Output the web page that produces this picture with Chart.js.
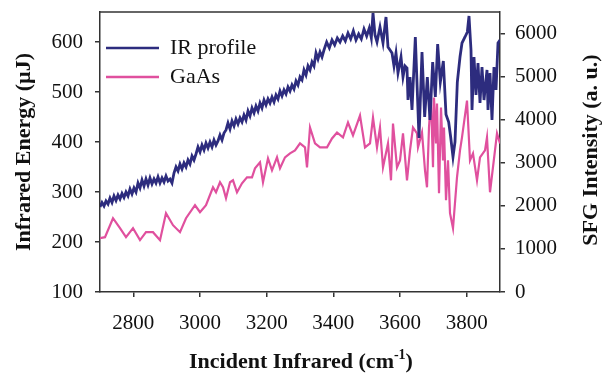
<!DOCTYPE html>
<html>
<head>
<meta charset="utf-8">
<script src="https://cdn.jsdelivr.net/npm/chart.js@4.4.1/dist/chart.umd.min.js"></script>
<style>
  html, body { margin: 0; background: #fff; }
</style>
</head>
<body>
<canvas id="chart" width="605" height="373"></canvas>
<script>
// ==== DATA ====
// IR profile, left axis (µJ): [wavenumber, energy]
const irProfile = [
  [2700,270],[2706,279],[2712,272],[2718,282],[2724,276],[2730,288],[2736,279],[2742,292],
  [2748,283],[2754,294],[2760,286],[2766,297],[2772,289],[2778,300],[2784,292],[2790,306],
  [2796,296],[2802,308],[2808,300],[2814,318],[2820,308],[2826,324],[2832,312],[2838,326],
  [2844,314],[2850,328],[2856,316],[2862,326],[2868,318],[2874,330],[2880,318],[2886,328],
  [2892,320],[2898,332],[2904,322],[2910,326],[2916,318],[2922,338],[2928,350],[2934,342],
  [2940,356],[2946,346],[2952,358],[2958,350],[2964,364],[2970,356],[2976,372],[2982,364],
  [2988,376],[2994,390],[3000,380],[3006,394],[3012,384],[3018,398],[3024,388],[3030,400],
  [3036,390],[3042,404],[3048,394],[3054,402],[3060,414],[3066,404],[3072,418],[3078,424],
  [3084,438],[3090,426],[3096,442],[3102,432],[3108,446],[3114,436],[3120,448],[3126,440],
  [3132,454],[3138,444],[3144,462],[3150,452],[3156,468],[3162,458],[3168,472],[3174,462],
  [3180,478],[3186,468],[3192,484],[3198,474],[3204,486],[3210,478],[3216,490],[3222,480],
  [3228,494],[3234,486],[3240,502],[3246,492],[3252,504],[3258,496],[3264,510],[3270,502],
  [3276,514],[3282,506],[3288,522],[3294,514],[3300,530],[3306,524],[3312,544],[3318,534],
  [3324,552],[3330,544],[3336,560],[3342,552],[3348,578],[3354,566],[3360,580],[3366,570],
  [3372,584],[3380,600],[3388,588],[3396,604],[3404,594],[3412,608],[3420,600],[3428,612],
  [3436,602],[3444,618],[3452,606],[3460,622],[3468,604],[3476,616],[3484,606],[3492,626],
  [3500,612],[3508,628],[3514,608],[3519,658],[3525,614],[3531,600],[3540,630],[3549,598],
  [3558,650],[3564,590],[3570,584],[3576,578],[3582,552],[3588,578],[3594,538],[3603,570],
  [3609,530],[3615,552],[3621,548],[3624,484],[3630,530],[3636,464],[3646,610],[3657,408],
  [3666,580],[3674,450],[3682,530],[3690,444],[3698,560],[3706,490],[3713,596],[3721,520],
  [3730,562],[3738,455],[3746,440],[3752,410],[3759,370],[3765,400],[3772,520],[3780,570],
  [3786,598],[3795,610],[3802,620],[3807,652],[3813,584],[3816,464],[3822,570],[3828,494],
  [3834,558],[3840,478],[3846,550],[3852,484],[3861,544],[3864,464],[3870,538],[3876,444],
  [3882,550],[3888,504],[3894,598],[3900,604]
];

// GaAs SFG, right axis (a. u.): [wavenumber, intensity]
const gaas = [
  [2700,1250],[2715,1273],[2739,1713],[2760,1482],[2778,1273],[2799,1482],[2820,1204],
  [2838,1389],[2859,1389],[2880,1204],[2898,1829],[2919,1551],[2940,1389],[2958,1713],
  [2985,2014],[3000,1852],[3018,2014],[3039,2431],[3048,2315],[3060,2547],[3069,2431],
  [3078,2176],[3090,2547],[3099,2593],[3111,2315],[3126,2523],[3141,2663],[3156,2663],
  [3165,2871],[3180,3010],[3189,2547],[3204,3102],[3216,2824],[3231,3125],[3240,2871],
  [3255,3125],[3270,3218],[3285,3287],[3300,3450],[3315,3357],[3321,2894],[3330,3820],
  [3345,3450],[3360,3357],[3381,3357],[3396,3565],[3411,3704],[3429,3588],[3444,3935],
  [3459,3635],[3480,4097],[3495,3357],[3510,3450],[3519,4050],[3531,3357],[3540,3820],
  [3549,2894],[3564,3450],[3573,2593],[3579,3912],[3591,2894],[3600,3056],[3609,3681],
  [3621,2593],[3630,3287],[3639,3820],[3651,3681],[3654,3357],[3666,3704],[3675,2824],
  [3681,2431],[3687,3820],[3693,4514],[3699,2894],[3702,4514],[3708,3450],[3711,4375],
  [3717,2292],[3723,4283],[3729,3056],[3732,3820],[3738,2130],[3744,3056],[3750,1829],
  [3759,1482],[3771,2663],[3780,3287],[3786,3588],[3801,4445],[3810,3056],[3819,3218],
  [3831,2593],[3840,3125],[3855,3287],[3861,3588],[3870,2315],[3891,3681],[3900,3450]
];

const xTicks  = [2800, 3000, 3200, 3400, 3600, 3800];
const yTicks  = [100, 200, 300, 400, 500, 600];
const y2Ticks = [0, 1000, 2000, 3000, 4000, 5000, 6000];

const BLUE = '#2d2c7e';
const PINK = '#e0509e';
const AXIS = '#333';
const SERIF = '"Liberation Serif", "Times New Roman", serif';

const toPts = arr => arr.map(([x, y]) => ({ x, y }));
const keepTicks = list => scale => {
  scale.ticks = list.map(v => ({ value: v }));
};
const plain = v => String(v);

// ==== TITLES, FRAME & LEGEND ====
const decor = {
  id: 'decor',
  afterDraw(chart) {
    const { ctx, chartArea: a } = chart;
    ctx.save();

    // top border
    ctx.strokeStyle = AXIS;
    ctx.lineWidth = 1.5;
    ctx.beginPath();
    ctx.moveTo(a.left, a.top);
    ctx.lineTo(a.right, a.top);
    ctx.stroke();

    // legend inside plot
    ctx.font = '22px ' + SERIF;
    ctx.textBaseline = 'middle';
    ctx.textAlign = 'left';
    chart.data.datasets.forEach((ds, i) => {
      const y = 48 + i * 29;
      ctx.strokeStyle = ds.borderColor;
      ctx.lineWidth = 2.5;
      ctx.beginPath();
      ctx.moveTo(106, y);
      ctx.lineTo(159, y);
      ctx.stroke();
      ctx.fillStyle = '#111';
      ctx.fillText(ds.label, 170, y);
    });

    // axis titles
    ctx.fillStyle = '#111';
    ctx.font = 'bold 22px ' + SERIF;
    ctx.textAlign = 'center';
    ctx.textBaseline = 'middle';

    ctx.save();
    ctx.translate(24, 152);
    ctx.rotate(-Math.PI / 2);
    ctx.fillText('Infrared Energy (\u00b5J)', 0, 0);
    ctx.restore();

    ctx.save();
    ctx.translate(591, 150);
    ctx.rotate(-Math.PI / 2);
    ctx.fillText('SFG Intensity (a. u.)', 0, 0);
    ctx.restore();

    // x title with superscript
    const main = 'Incident Infrared (cm';
    const sup = '-1';
    const tail = ')';
    ctx.textAlign = 'left';
    ctx.textBaseline = 'alphabetic';
    const wMain = ctx.measureText(main).width;
    const wTail = ctx.measureText(tail).width;
    ctx.font = 'bold 14px ' + SERIF;
    const wSup = ctx.measureText(sup).width;
    let x = 301 - (wMain + wSup + wTail) / 2;
    const base = 368;
    ctx.font = 'bold 22px ' + SERIF;
    ctx.fillText(main, x, base);
    x += wMain;
    ctx.font = 'bold 14px ' + SERIF;
    ctx.fillText(sup, x, base - 9);
    x += wSup;
    ctx.font = 'bold 22px ' + SERIF;
    ctx.fillText(tail, x, base);

    ctx.restore();
  }
};

// ==== CHART ====
const tickFont = { family: SERIF, size: 21 };
const noPad = s => { s.paddingTop = 0; s.paddingBottom = 0; s.paddingLeft = 0; s.paddingRight = 0; };

new Chart(document.getElementById('chart'), {
  type: 'line',
  data: {
    datasets: [
      {
        label: 'IR profile',
        data: toPts(irProfile),
        yAxisID: 'y',
        borderColor: BLUE,
        borderWidth: 2.8,
        pointRadius: 0,
        tension: 0,
        fill: false
      },
      {
        label: 'GaAs',
        data: toPts(gaas),
        yAxisID: 'y2',
        borderColor: PINK,
        borderWidth: 2.2,
        pointRadius: 0,
        tension: 0,
        fill: false
      }
    ]
  },
  options: {
    responsive: false,
    animation: false,
    layout: { padding: { top: 12, left: 0, right: 0, bottom: 0 } },
    plugins: { legend: { display: false }, tooltip: { enabled: false } },
    scales: {
      x: {
        type: 'linear',
        position: 'bottom',
        min: 2700,
        max: 3900,
        afterBuildTicks: keepTicks(xTicks),
        afterFit: s => { noPad(s); s.height = 81; },
        ticks: { font: tickFont, color: '#111', padding: 14, maxRotation: 0, callback: plain },
        grid: { drawOnChartArea: false, drawTicks: true, tickLength: 5, color: AXIS, lineWidth: 1.5 },
        border: { display: true, color: AXIS, width: 1.5 }
      },
      y: {
        type: 'linear',
        position: 'left',
        min: 100,
        max: 660,
        afterBuildTicks: keepTicks(yTicks),
        afterFit: s => { noPad(s); s.width = 100; },
        ticks: { font: tickFont, color: '#111', padding: 12, callback: plain },
        grid: { drawOnChartArea: false, drawTicks: true, tickLength: 5, color: AXIS, lineWidth: 1.5 },
        border: { display: true, color: AXIS, width: 1.5 }
      },
      y2: {
        type: 'linear',
        position: 'right',
        min: 0,
        max: 6500,
        afterBuildTicks: keepTicks(y2Ticks),
        afterFit: s => { noPad(s); s.width = 105; },
        ticks: { font: tickFont, color: '#111', padding: 10, callback: plain },
        grid: { drawOnChartArea: false, drawTicks: true, tickLength: 5, color: AXIS, lineWidth: 1.5 },
        border: { display: true, color: AXIS, width: 1.5 }
      }
    }
  },
  plugins: [decor]
});
</script>
</body>
</html>
